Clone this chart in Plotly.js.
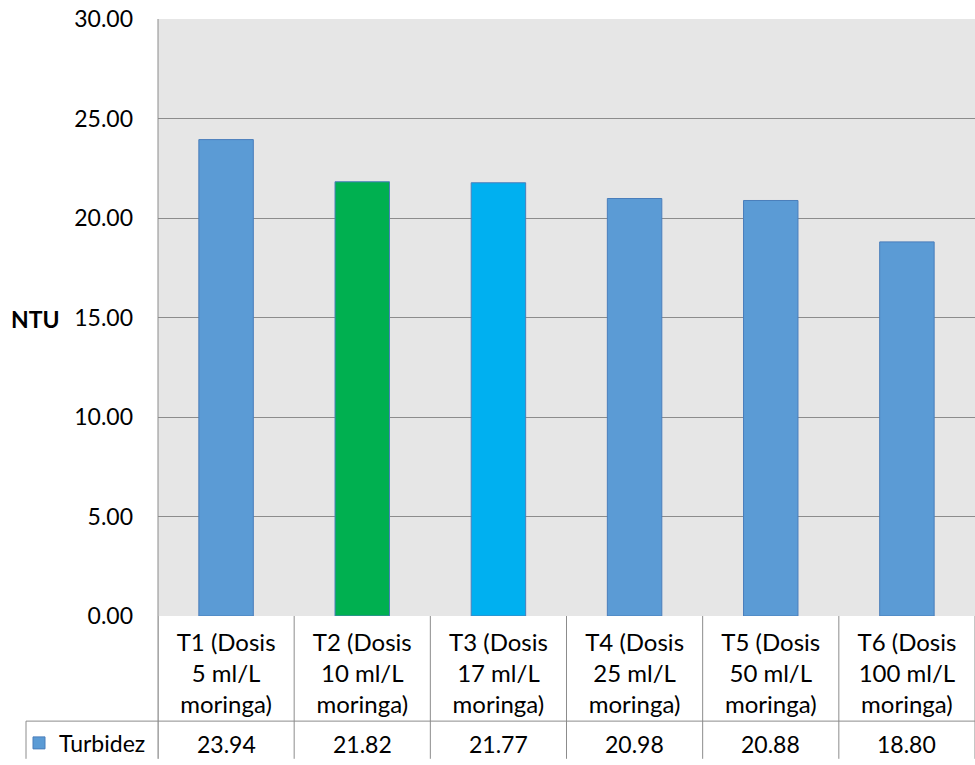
<!DOCTYPE html>
<html>
<head>
<meta charset="utf-8">
<script src="https://cdn.plot.ly/plotly-3.0.1.min.js"></script>
<style>html,body{margin:0;padding:0;background:#fff;}#chart{width:975px;height:765px;}</style>
</head>
<body>
<div id="chart"></div>
<script>
const categories = [
  "T1 (Dosis<br>5 ml/L<br>moringa)",
  "T2 (Dosis<br>10 ml/L<br>moringa)",
  "T3 (Dosis<br>17 ml/L<br>moringa)",
  "T4 (Dosis<br>25 ml/L<br>moringa)",
  "T5 (Dosis<br>50 ml/L<br>moringa)",
  "T6 (Dosis<br>100 ml/L<br>moringa)"
];
const turbidez = [23.94, 21.82, 21.77, 20.98, 20.88, 18.80];
const seriesName = "Turbidez";
const yTicks = [0, 5, 10, 15, 20, 25, 30];

const FONT = "Lato, Carlito, Calibri, sans-serif";
const W = 975, H = 765, L = 158, R = 0, T = 19, B = 144;
const pw = W - L - R, ph = H - T - B;
const px = x => (x - L) / pw;
const py = y => (H - B - y) / ph;

const xIdx = categories.map((_, i) => i);

const trace = {
  type: "bar",
  x: xIdx,
  y: turbidez,
  name: seriesName,
  marker: {
    color: ["#5b9bd5", "#00b050", "#00b0f0", "#5b9bd5", "#5b9bd5", "#5b9bd5"],
    line: {color: "#4a7ebb", width: 1}
  },
  showlegend: true,
  hoverinfo: "skip"
};

const shapes = [];
const lineStyle = {color: "#8c8c8c", width: 1};
for (let k = 0; k <= categories.length; k++) {
  shapes.push({type: "line", xref: "x", yref: "paper", x0: k - 0.5, x1: k - 0.5,
    y0: 0, y1: py(765), line: lineStyle, layer: "above"});
}
shapes.push({type: "line", xref: "paper", yref: "paper", x0: px(26), x1: 1,
  y0: py(727), y1: py(727), line: lineStyle});
shapes.push({type: "line", xref: "paper", yref: "paper", x0: px(26), x1: px(26),
  y0: py(727), y1: py(765), line: lineStyle});
shapes.push({type: "line", xref: "paper", yref: "paper", x0: 0, x1: 0,
  y0: py(765), y1: 1, line: lineStyle});

const annotations = turbidez.map((v, i) => ({
  xref: "x", yref: "paper", x: i, y: py(750),
  text: v.toFixed(2), showarrow: false,
  font: {family: FONT, size: 23, color: "#000"},
  xanchor: "center", yanchor: "middle"
}));
annotations.push({
  xref: "paper", yref: "paper", x: px(36), y: py(322),
  text: "<b>NTU</b>", showarrow: false,
  font: {family: FONT, size: 23, color: "#000"},
  xanchor: "center", yanchor: "middle"
});

const layout = {
  width: W, height: H,
  margin: {l: L, r: R, t: T, b: B, pad: 0},
  paper_bgcolor: "#ffffff",
  plot_bgcolor: "#e6e6e6",
  bargap: 0.6,
  font: {family: FONT, size: 23, color: "#000"},
  xaxis: {
    range: [-0.5, categories.length - 0.5],
    tickmode: "array", tickvals: xIdx, ticktext: categories,
    ticks: "", showgrid: false, zeroline: false, showline: false,
    tickfont: {family: FONT, size: 24, color: "#000"},
    ticklabelstandoff: 10,
    automargin: false, fixedrange: true
  },
  yaxis: {
    range: [0, 30],
    tickmode: "array", tickvals: yTicks,
    tickformat: ".2f",
    ticks: "", ticklabelstandoff: 24,
    showgrid: true, gridcolor: "#8c8c8c", gridwidth: 1,
    zeroline: false, showline: false,
    tickfont: {family: FONT, size: 23, color: "#000"},
    automargin: false, fixedrange: true
  },
  legend: {
    x: px(19), y: py(749), xanchor: "left", yanchor: "middle",
    bgcolor: "rgba(0,0,0,0)", font: {family: FONT, size: 23, color: "#000"},
    itemwidth: 30, tracegroupgap: 0
  },
  shapes: shapes,
  annotations: annotations
};

Plotly.newPlot("chart", [trace], layout, {staticPlot: true, displayModeBar: false});
</script>
</body>
</html>
